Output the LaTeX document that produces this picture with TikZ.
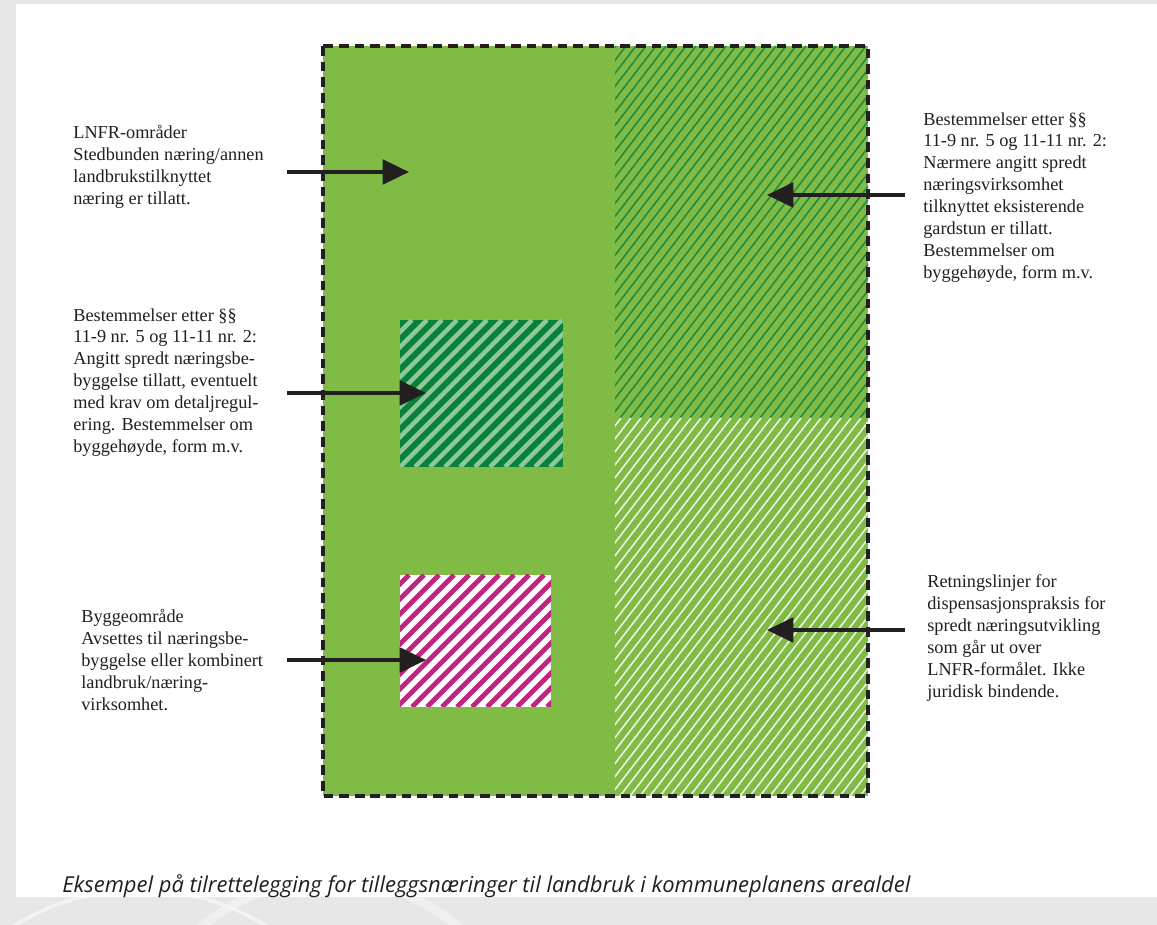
\documentclass[tikz,border=0pt]{standalone}
\usepackage{fontspec}
\setmainfont{Liberation Serif}
\newfontfamily\captionfont{Open Sans}
\usetikzlibrary{arrows.meta}

\definecolor{lnfrgreen}{RGB}{128,187,70}
\definecolor{hatchgreen}{RGB}{30,140,62}
\definecolor{boxgreen}{RGB}{8,130,56}
\definecolor{stripegreen}{RGB}{145,200,155}
\definecolor{byggmagenta}{RGB}{192,36,128}
\definecolor{pagegray}{RGB}{230,231,230}
\definecolor{textblack}{RGB}{35,31,32}

\begin{document}
\begin{tikzpicture}[x=0.02cm, y=-0.02cm,
    pil/.style={-{Triangle[length=15pt, width=14pt]}, line width=2pt, textblack},
    tekst/.style={anchor=north west, inner sep=0pt, align=left, text=textblack, font=\fontsize{10.4}{12.5}\selectfont}]
        \useasboundingbox (0,0) rectangle (1157,925);

        % Background page
        \fill[pagegray] (0,0) rectangle (1157,925);
        \draw[white, opacity=0.5, line width=2pt] (140,1130) circle (240);
        \draw[white, opacity=0.4, line width=5pt] (330,1080) circle (200);
        \fill[white] (16,4) rectangle (1157,897);

        % LNFR area
        \fill[lnfrgreen] (323,46) rectangle (868,796);

        % Hatched upper right (bestemmelser)
        \begin{scope}
            \clip (615,46) rectangle (868,418);
            \foreach \k in {320,330,...,870}
                \draw[hatchgreen, line width=0.9pt] (\k,418) -- ++(286,-372);
        \end{scope}

        % Hatched lower right (retningslinjer)
        \begin{scope}
            \clip (615,418) rectangle (868,796);
            \foreach \k in {320,330,...,870}
                \draw[white!85!lnfrgreen, line width=0.9pt] (\k,796) -- ++(291,-378);
        \end{scope}

        % Spredt naeringsbebyggelse
        \fill[boxgreen] (400,320) rectangle (563,467);
        \begin{scope}
            \clip (400,320) rectangle (563,467);
            \foreach \k in {250,265,...,570}
                \draw[stripegreen, line width=2.5pt] (\k,467) -- ++(147,-147);
        \end{scope}

        % Byggeomraade
        \fill[white] (400,575) rectangle (551,707);
        \begin{scope}
            \clip (400,575) rectangle (551,707);
            \foreach \k in {262,277,...,560}
                \draw[byggmagenta, line width=2.8pt] (\k,707) -- ++(132,-132);
        \end{scope}

        % Dashed border
        \draw[textblack, line width=2pt, dash pattern=on 5.5pt off 3.4pt] (323,46) rectangle (868,796);

        % Texts
        \node[tekst] (lnfr) at (73,125) {LNFR-områder\\Stedbunden næring/annen\\landbrukstilknyttet\\næring er tillatt.};
        \node[tekst] (spredt) at (73,308) {Bestemmelser etter §§\\11-9 nr. 5 og 11-11 nr. 2:\\Angitt spredt næringsbe-\\byggelse tillatt, eventuelt\\med krav om detaljregul-\\ering. Bestemmelser om\\byggehøyde, form m.v.};
        \node[tekst] (bygg) at (81,609) {Byggeområde\\Avsettes til næringsbe-\\byggelse eller kombinert\\landbruk/næring-\\virksomhet.};
        \node[tekst] (gardstun) at (923,112) {Bestemmelser etter §§\\11-9 nr. 5 og 11-11 nr. 2:\\Nærmere angitt spredt\\næringsvirksomhet\\tilknyttet eksisterende\\gardstun er tillatt.\\Bestemmelser om\\byggehøyde, form m.v.};
        \node[tekst] (retning) at (927,574) {Retningslinjer for\\dispensasjonspraksis for\\spredt næringsutvikling\\som går ut over\\LNFR-formålet. Ikke\\juridisk bindende.};

        % Arrows
        \coordinate (lnfr-fra) at (287,172);
        \coordinate (lnfr-til) at (409,172);
        \coordinate (spredt-fra) at (287,393);
        \coordinate (spredt-til) at (426,393);
        \coordinate (bygg-fra) at (287,660);
        \coordinate (bygg-til) at (426,660);
        \coordinate (gardstun-fra) at (905,195);
        \coordinate (gardstun-til) at (767,195);
        \coordinate (retning-fra) at (905,630);
        \coordinate (retning-til) at (767,630);
        \draw[pil] (lnfr-fra) -- (lnfr-til);
        \draw[pil] (spredt-fra) -- (spredt-til);
        \draw[pil] (bygg-fra) -- (bygg-til);
        \draw[pil] (gardstun-fra) -- (gardstun-til);
        \draw[pil] (retning-fra) -- (retning-til);

        % Caption
        \node[anchor=base west, inner sep=0pt, text=textblack, font=\captionfont\itshape\fontsize{12.5}{14}\selectfont] (bildetekst) at (62,892) {Eksempel på tilrettelegging for tilleggsnæringer til landbruk i kommuneplanens arealdel};
    \end{tikzpicture}
\end{document}
